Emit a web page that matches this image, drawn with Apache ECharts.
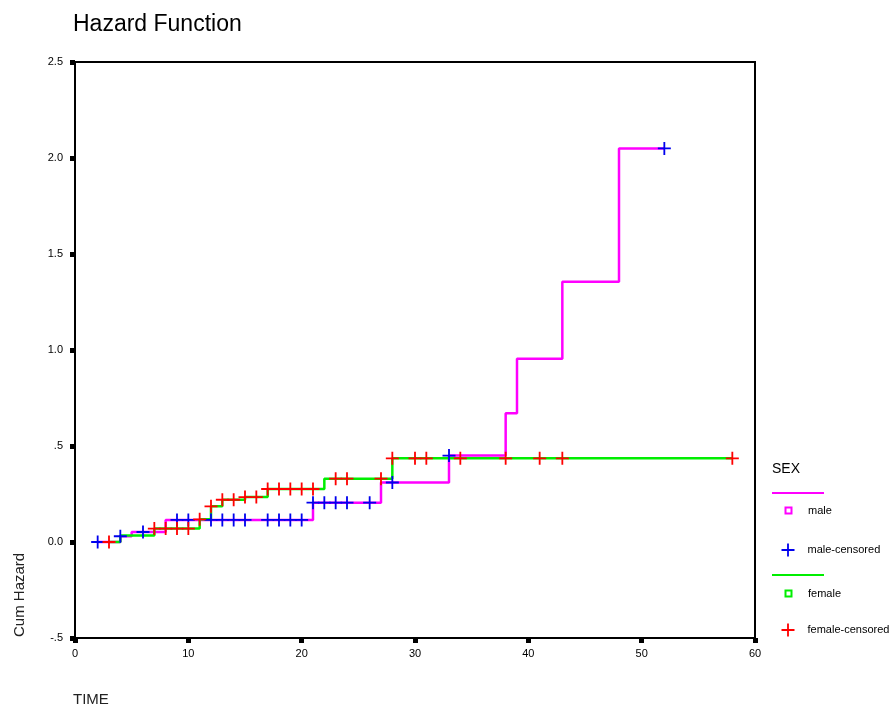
<!DOCTYPE html>
<html>
<head>
<meta charset="utf-8">
<script src="https://cdn.jsdelivr.net/npm/echarts@6/dist/echarts.min.js"></script>
<style>
  html, body { margin: 0; padding: 0; background: #fff; }
  #main { width: 894px; height: 713px; }
</style>
</head>
<body>
<div id="main"></div>
<script>
// step points: time of event and cum hazard after it (last point = end of follow-up)
var maleTime = [2, 4, 5, 8, 21, 27, 33, 38, 39, 43, 48, 52]
var maleHazard = [0, 0.03, 0.052, 0.115, 0.205, 0.31, 0.45, 0.67, 0.955, 1.355, 2.05, 2.05]
var femaleTime = [3, 4, 7, 11, 12, 13, 15, 17, 22, 28, 58]
var femaleHazard = [0, 0.034, 0.07, 0.118, 0.186, 0.22, 0.234, 0.276, 0.33, 0.436, 0.436]

// censored cases
var maleCensTime = [2, 4, 6, 9, 10, 12, 13, 14, 15, 17, 18, 19, 20, 21, 22, 23, 24, 26, 28, 33, 52]
var maleCensHazard = [0, 0.03, 0.052, 0.115, 0.115, 0.115, 0.115, 0.115, 0.115, 0.115, 0.115, 0.115, 0.115,
  0.205, 0.205, 0.205, 0.205, 0.205, 0.31, 0.45, 2.05]
var femaleCensTime = [3, 7, 8, 9, 10, 11, 12, 13, 14, 15, 16, 17, 18, 19, 20, 21, 23, 24, 27, 28, 30, 31, 34, 38, 41, 43, 58]
var femaleCensHazard = [0, 0.07, 0.07, 0.07, 0.07, 0.118, 0.186, 0.22, 0.22, 0.234, 0.234,
  0.276, 0.276, 0.276, 0.276, 0.276, 0.33, 0.33, 0.33, 0.436, 0.436, 0.436, 0.436, 0.436, 0.436, 0.436, 0.436]

var yTickLabels = ['-.5', '0.0', '.5', '1.0', '1.5', '2.0', '2.5']

function zip(xs, ys) {
  return xs.map(function (x, i) { return [x, ys[i]] })
}

var crossPath = 'path://M-1,-0.14 L1,-0.14 L1,0.14 L-1,0.14 Z M-0.14,-1 L0.14,-1 L0.14,1 L-0.14,1 Z'
var squarePath = 'path://M0,0 L10,0 L10,10 L0,10 Z M2.5,2.5 L2.5,7.5 L7.5,7.5 L7.5,2.5 Z'
var colors = { male: '#ff00ff', maleCens: '#0000ee', female: '#00ee00', femaleCens: '#ff0000' }
var font = 'Arial, "Liberation Sans", sans-serif'

function legendAt(name, left, top, icon, h, color) {
  return {
    data: [{ name: name, icon: icon, itemStyle: { color: color } }],
    left: left,
    top: top,
    padding: 0,
    itemWidth: 29,
    itemHeight: h,
    symbolKeepAspect: true,
    selectedMode: false,
    textStyle: { fontFamily: font, fontSize: 11, color: '#000' }
  }
}

var myChart = echarts.init(document.getElementById('main'))
var option = {
  animation: false,
  backgroundColor: '#fff',
  title: {
    text: 'Hazard Function',
    left: 68,
    top: 8,
    textStyle: { fontFamily: font, fontSize: 23, fontWeight: 'normal', color: '#000' }
  },
  grid: {
    left: 75,
    top: 62,
    width: 680,
    height: 576,
    show: true,
    borderColor: '#000',
    borderWidth: 2
  },
  xAxis: {
    type: 'value',
    min: 0,
    max: 60,
    interval: 10,
    splitLine: { show: false },
    axisLine: { onZero: false, lineStyle: { color: '#000', width: 2 } },
    axisTick: { show: true, length: 5, lineStyle: { color: '#000', width: 5 } },
    axisLabel: { margin: 10, fontFamily: font, fontSize: 11, color: '#000' }
  },
  yAxis: {
    type: 'value',
    min: -0.5,
    max: 2.5,
    interval: 0.5,
    splitLine: { show: false },
    axisLine: { onZero: false, lineStyle: { color: '#000', width: 2 } },
    axisTick: { show: true, length: 5, lineStyle: { color: '#000', width: 5 } },
    axisLabel: {
      margin: 12,
      fontFamily: font,
      fontSize: 11,
      color: '#000',
      formatter: function (v) {
        return yTickLabels[Math.round((v + 0.5) / 0.5)]
      }
    }
  },
  legend: [
    legendAt('male', 784.5, 505, squarePath, 8, colors.male),
    legendAt('male-censored', 781.5, 543.5, crossPath, 13, colors.maleCens),
    legendAt('female', 784.5, 588, squarePath, 8, colors.female),
    legendAt('female-censored', 781.5, 623.5, crossPath, 13, colors.femaleCens)
  ],
  graphic: [
    { type: 'text', left: 772, top: 462, style: { text: 'SEX', font: '14px ' + font, fill: '#000' } },
    { type: 'line', shape: { x1: 772, y1: 493, x2: 824, y2: 493 }, style: { stroke: colors.male, lineWidth: 2 } },
    { type: 'line', shape: { x1: 772, y1: 575, x2: 824, y2: 575 }, style: { stroke: colors.female, lineWidth: 2 } },
    { type: 'text', left: 73, top: 692, style: { text: 'TIME', font: '15px ' + font, fill: '#222' } },
    {
      type: 'text', x: 12, y: 637, rotation: Math.PI / 2,
      style: { text: 'Cum Hazard', font: '15px ' + font, fill: '#222' }
    }
  ],
  series: [
    {
      name: 'male',
      type: 'line',
      step: 'end',
      showSymbol: false,
      data: zip(maleTime, maleHazard),
      lineStyle: { color: colors.male, width: 2.5 },
      itemStyle: { color: colors.male },
      z: 2
    },
    {
      name: 'female',
      type: 'line',
      step: 'end',
      showSymbol: false,
      data: zip(femaleTime, femaleHazard),
      lineStyle: { color: colors.female, width: 2.5 },
      itemStyle: { color: colors.female },
      z: 2
    },
    {
      name: 'male-censored',
      type: 'scatter',
      symbol: crossPath,
      symbolSize: 13,
      data: zip(maleCensTime, maleCensHazard),
      itemStyle: { color: colors.maleCens, opacity: 1 },
      z: 3
    },
    {
      name: 'female-censored',
      type: 'scatter',
      symbol: crossPath,
      symbolSize: 13,
      data: zip(femaleCensTime, femaleCensHazard),
      itemStyle: { color: colors.femaleCens, opacity: 1 },
      z: 4
    }
  ]
}
myChart.setOption(option)
</script>
</body>
</html>
